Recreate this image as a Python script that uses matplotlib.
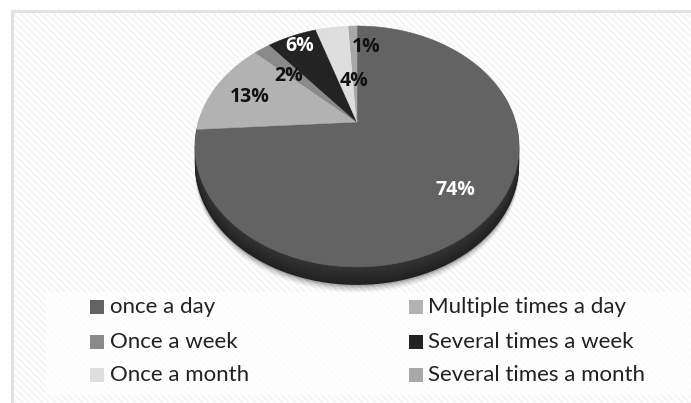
import numpy as np
import matplotlib
matplotlib.use("Agg")
import matplotlib.pyplot as plt
from matplotlib.patches import Polygon, Rectangle

categories = ["once a day", "Multiple times a day", "Once a week",
              "Several times a week", "Once a month", "Several times a month"]
values = [74, 13, 2, 6, 4, 1]
colors = ["#636363", "#b2b2b2", "#8a8a8a", "#232323", "#dedede", "#a8a8a8"]
text_colors = ["white", "#111111", "#111111", "white", "#111111", "#111111"]
label_xy = [(455, 190), (250, 97), (289, 76), (300, 46), (354, 81), (366, 47)]
legend_rows = [307, 342, 375]
legend_cols = [(90, 110), (409, 428)]

W, H = 691, 403
APEX = (357, 122)
A, B, K = 158.7, 115.5, 0.203
DEPTH = 18
FONT = "Lato"
LABEL_FONT = "Open Sans"

def project(theta):
    """Perspective projection of the unit circle (clockwise from 12 o'clock)."""
    s, c = np.sin(theta), np.cos(theta)
    d = 1 + K * c
    return APEX[0] + A * s / d, APEX[1] - B * c / d

fig = plt.figure(figsize=(W / 100, H / 100), dpi=100, facecolor="white")
ax = fig.add_axes([0, 0, 1, 1])
ax.set_xlim(0, W)
ax.set_ylim(H, 0)
ax.axis("off")

# hatched chart area and frame
plt.rcParams["hatch.linewidth"] = 1.6
ax.add_patch(Rectangle((12, 11), W - 12, H - 11, facecolor="white",
                       edgecolor="#f5f5f5", hatch="\\\\\\\\\\", linewidth=0, zorder=0))
ax.plot([12, 12, W], [H, 11, 11], color="#e2e2e2", lw=2.2, zorder=1,
        solid_joinstyle="miter")

# soft shadow and side wall
full = np.linspace(0, 2 * np.pi, 400)
fx, fy = project(full)
for grow, alpha in zip([7, 5, 3, 1.5], [0.06, 0.08, 0.10, 0.14]):
    ax.add_patch(Polygon(np.c_[fx, fy + DEPTH + grow], closed=True,
                         facecolor="black", edgecolor="none", alpha=alpha, zorder=2))
for off, shade in zip(np.arange(DEPTH, 0, -1), np.linspace(0.13, 0.2, DEPTH)):
    ax.add_patch(Polygon(np.c_[fx, fy + off], closed=True,
                         facecolor=str(shade), edgecolor="none", zorder=3))

# top surface
start = 0.0
for val, col in zip(values, colors):
    end = start + val / sum(values) * 2 * np.pi
    t = np.linspace(start, end, 200)
    x, y = project(t)
    ax.add_patch(Polygon(np.r_[[APEX], np.c_[x, y]], closed=True, facecolor=col,
                         edgecolor=col, linewidth=0.4, zorder=4))
    start = end

for val, col, (lx, ly) in zip(values, text_colors, label_xy):
    ax.text(lx, ly, f"{val}%", color=col, fontsize=14, fontweight="bold",
            family=LABEL_FONT, ha="center", va="center", zorder=6)

# legend
ax.add_patch(Rectangle((46, 292), W - 46, 103, facecolor="white",
                       edgecolor="none", alpha=0.75, zorder=2))
for i, (cat, col) in enumerate(zip(categories, colors)):
    sx, tx = legend_cols[i % 2]
    ry = legend_rows[i // 2]
    ax.add_patch(Rectangle((sx, ry - 7), 14, 14, facecolor=col, edgecolor="none", zorder=5))
    ax.text(tx, ry, cat, fontsize=16, family=FONT, color="#222222",
            ha="left", va="center", zorder=6)

fig.savefig("out.png", dpi=100, facecolor="white")
